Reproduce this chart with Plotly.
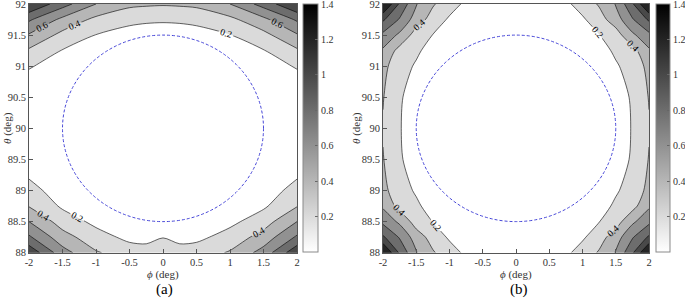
import plotly.graph_objects as go

# ---------------- data ----------------
phi_a = [-2, -1.5, -1, -0.5, -0.25, 0, 0.25, 0.5, 1, 1.5, 2]
theta_a = [88, 88.25, 88.5, 88.75, 89, 89.5, 90, 90.5, 91, 91.25, 91.5, 91.75, 92]
z_a = [
    [1.15, 0.68, 0.42, 0.30, 0.28, 0.30, 0.28, 0.30, 0.42, 0.68, 1.15],
    [0.83, 0.48, 0.28, 0.15, 0.14, 0.195, 0.14, 0.15, 0.28, 0.48, 0.83],
    [0.60, 0.31, 0.15, 0.08, 0.08, 0.10, 0.08, 0.08, 0.15, 0.31, 0.60],
    [0.39, 0.17, 0.10, 0.05, 0.05, 0.06, 0.05, 0.05, 0.10, 0.17, 0.39],
    [0.27, 0.10, 0.06, 0.03, 0.03, 0.04, 0.03, 0.03, 0.06, 0.10, 0.27],
    [0.08, 0.05, 0.03, 0.02, 0.02, 0.02, 0.02, 0.02, 0.03, 0.05, 0.08],
    [0.05, 0.03, 0.02, 0.01, 0.01, 0.01, 0.01, 0.01, 0.02, 0.03, 0.05],
    [0.065, 0.04, 0.03, 0.02, 0.02, 0.02, 0.02, 0.02, 0.03, 0.04, 0.065],
    [0.215, 0.12, 0.07, 0.06, 0.055, 0.05, 0.055, 0.06, 0.07, 0.12, 0.215],
    [0.37, 0.19, 0.12, 0.09, 0.085, 0.08, 0.085, 0.09, 0.12, 0.19, 0.37],
    [0.58, 0.34, 0.195, 0.14, 0.125, 0.12, 0.125, 0.14, 0.195, 0.34, 0.58],
    [0.83, 0.55, 0.35, 0.24, 0.225, 0.22, 0.225, 0.24, 0.35, 0.55, 0.83],
    [1.20, 0.88, 0.60, 0.45, 0.43, 0.42, 0.43, 0.45, 0.60, 0.88, 1.20],
]

phi_b = [-2, -1.75, -1.5, -1.25, -1, -0.5, 0, 0.5, 1, 1.25, 1.5, 1.75, 2]
theta_b = [88, 88.25, 88.5, 88.75, 89, 89.5, 90, 90.5, 91, 91.25, 91.5, 91.75, 92]
z_b = [
    [1.45, 0.97, 0.61, 0.42, 0.29, 0.025, 0.01, 0.025, 0.29, 0.42, 0.61, 0.97, 1.45],
    [1.03, 0.78, 0.50, 0.32, 0.17, 0.03, 0.02, 0.03, 0.17, 0.32, 0.50, 0.78, 1.03],
    [0.75, 0.56, 0.31, 0.195, 0.11, 0.04, 0.03, 0.04, 0.11, 0.195, 0.31, 0.56, 0.75],
    [0.57, 0.33, 0.23, 0.13, 0.08, 0.03, 0.02, 0.03, 0.08, 0.13, 0.23, 0.33, 0.57],
    [0.46, 0.27, 0.18, 0.10, 0.06, 0.03, 0.02, 0.03, 0.06, 0.10, 0.18, 0.27, 0.46],
    [0.41, 0.22, 0.12, 0.07, 0.04, 0.02, 0.02, 0.02, 0.04, 0.07, 0.12, 0.22, 0.41],
    [0.385, 0.21, 0.11, 0.06, 0.04, 0.02, 0.01, 0.02, 0.04, 0.06, 0.11, 0.21, 0.385],
    [0.41, 0.22, 0.12, 0.07, 0.04, 0.02, 0.02, 0.02, 0.04, 0.07, 0.12, 0.22, 0.41],
    [0.46, 0.27, 0.18, 0.10, 0.06, 0.03, 0.02, 0.03, 0.06, 0.10, 0.18, 0.27, 0.46],
    [0.57, 0.33, 0.23, 0.13, 0.08, 0.03, 0.02, 0.03, 0.08, 0.13, 0.23, 0.33, 0.57],
    [0.75, 0.56, 0.31, 0.195, 0.11, 0.04, 0.03, 0.04, 0.11, 0.195, 0.31, 0.56, 0.75],
    [1.03, 0.78, 0.50, 0.32, 0.17, 0.03, 0.02, 0.03, 0.17, 0.32, 0.50, 0.78, 1.03],
    [1.45, 0.97, 0.61, 0.42, 0.29, 0.025, 0.01, 0.025, 0.29, 0.42, 0.61, 0.97, 1.45],
]

x_tickvals = [-2, -1.5, -1, -0.5, 0, 0.5, 1, 1.5, 2]
x_ticktext = ["-2", "-1.5", "-1", "-0.5", "0", "0.5", "1", "1.5", "2"]
y_tickvals = [88, 88.5, 89, 89.5, 90, 90.5, 91, 91.5, 92]
y_ticktext = ["88", "88.5", "89", "89.5", "90", "90.5", "91", "91.5", "92"]
cbar_tickvals = [0.2, 0.4, 0.6, 0.8, 1.0, 1.2, 1.4]
cbar_ticktext = ["0.2", "0.4", "0.6", "0.8", "1", "1.2", "1.4"]

circle_center = (0, 90)
circle_radius = 1.5

# ---------------- layout helpers ----------------
W, H = 685, 299
FONT = "Liberation Serif, Times New Roman, DejaVu Serif, serif"
def fx(px):
    return px / W
def fy(py):
    return 1 - py / H

fig = go.Figure()

band_scale = [[0, "rgb(255,255,255)"], [1, "rgb(36,36,36)"]]
cont = dict(start=0.2, end=1.2, size=0.2, coloring="fill", showlabels=True,
            labelfont=dict(family=FONT, size=9.5, color="black"))

for xs, ys, zz, xa, ya in [(phi_a, theta_a, z_a, "x", "y"), (phi_b, theta_b, z_b, "x2", "y2")]:
    fig.add_trace(go.Contour(
        x=xs, y=ys, z=zz, xaxis=xa, yaxis=ya,
        contours=cont, colorscale=band_scale, showscale=False,
        line=dict(color="black", width=0.6, smoothing=0.8),
        hoverinfo="skip",
    ))

# continuous colorbars
for xa, ya, cbx, thick in [("x", "y", 303, 15), ("x2", "y2", 656, 14)]:
    fig.add_trace(go.Scatter(
        x=[0], y=[90], xaxis=xa, yaxis=ya, mode="markers",
        marker=dict(color=[0.5], cmin=0, cmax=1.4001, opacity=0, size=1,
                    colorscale=[[0, "white"], [1, "black"]], showscale=True,
                    colorbar=dict(x=fx(cbx), xanchor="left", xpad=0,
                                  y=1 - 128 / H, yanchor="middle", ypad=0,
                                  len=248 / H, lenmode="fraction",
                                  thickness=thick, thicknessmode="pixels",
                                  outlinewidth=1, outlinecolor="#8a8a8a",
                                  tickvals=cbar_tickvals, ticktext=cbar_ticktext,
                                  ticks="inside", ticklen=3, tickcolor="#666",
                                  ticklabeloverflow="allow",
                                  tickfont=dict(family=FONT, size=10, color="#333"))),
        showlegend=False, hoverinfo="skip",
    ))

axis_common = dict(showgrid=False, zeroline=False, showline=True, mirror=True,
                   linecolor="#555", linewidth=0.8, ticks="inside", ticklen=4,
                   tickcolor="#555", ticklabeloverflow="allow",
                   tickfont=dict(family=FONT, size=10.5, color="#333"))

fig.update_layout(
    width=W, height=H, margin=dict(l=0, r=0, t=0, b=0, autoexpand=False),
    paper_bgcolor="white", plot_bgcolor="white", showlegend=False,
    xaxis=dict(domain=[fx(29), fx(297)], range=[-2, 2], anchor="y",
               tickvals=x_tickvals, ticktext=x_ticktext, **axis_common),
    yaxis=dict(domain=[fy(252.7), fy(4)], range=[88, 92], anchor="x",
               tickvals=y_tickvals, ticktext=y_ticktext, **axis_common),
    xaxis2=dict(domain=[fx(383), fx(649)], range=[-2, 2], anchor="y2",
                tickvals=x_tickvals, ticktext=x_ticktext, **axis_common),
    yaxis2=dict(domain=[fy(252.7), fy(4)], range=[88, 92], anchor="x2",
                tickvals=y_tickvals, ticktext=y_ticktext, **axis_common),
)

cx, cy = circle_center
for xr, yr in [("x", "y"), ("x2", "y2")]:
    fig.add_shape(type="circle", xref=xr, yref=yr,
                  x0=cx - circle_radius, x1=cx + circle_radius,
                  y0=cy - circle_radius, y1=cy + circle_radius,
                  line=dict(color="rgb(70,70,215)", width=1, dash="3px,2px"))

ann = []
for xc, yc_title_x in [(163, 8), (516, 357)]:
    ann.append(dict(x=fx(xc), y=fy(274), xref="paper", yref="paper",
                    xanchor="center", yanchor="middle", borderpad=0,
                    text="<i>ϕ</i> (deg)", showarrow=False,
                    font=dict(family=FONT, size=11, color="#333")))
    ann.append(dict(x=fx(yc_title_x), y=fy(128), xref="paper", yref="paper",
                    xanchor="center", yanchor="middle", borderpad=0,
                    text="<i>θ</i> (deg)", showarrow=False, textangle=-90,
                    font=dict(family=FONT, size=11, color="#333")))
for lbl, xc in [("(a)", 164), ("(b)", 519)]:
    ann.append(dict(x=fx(xc), y=fy(289), xref="paper", yref="paper",
                    xanchor="center", yanchor="middle", borderpad=0, text=lbl,
                    showarrow=False, font=dict(family=FONT, size=15, color="black")))
fig.update_layout(annotations=ann)

fig.write_html("out.html",
               config={"displayModeBar": False, "responsive": False},
               post_script="document.body.style.margin='0';document.body.style.padding='0';"
                           "document.documentElement.style.overflow='hidden';")
